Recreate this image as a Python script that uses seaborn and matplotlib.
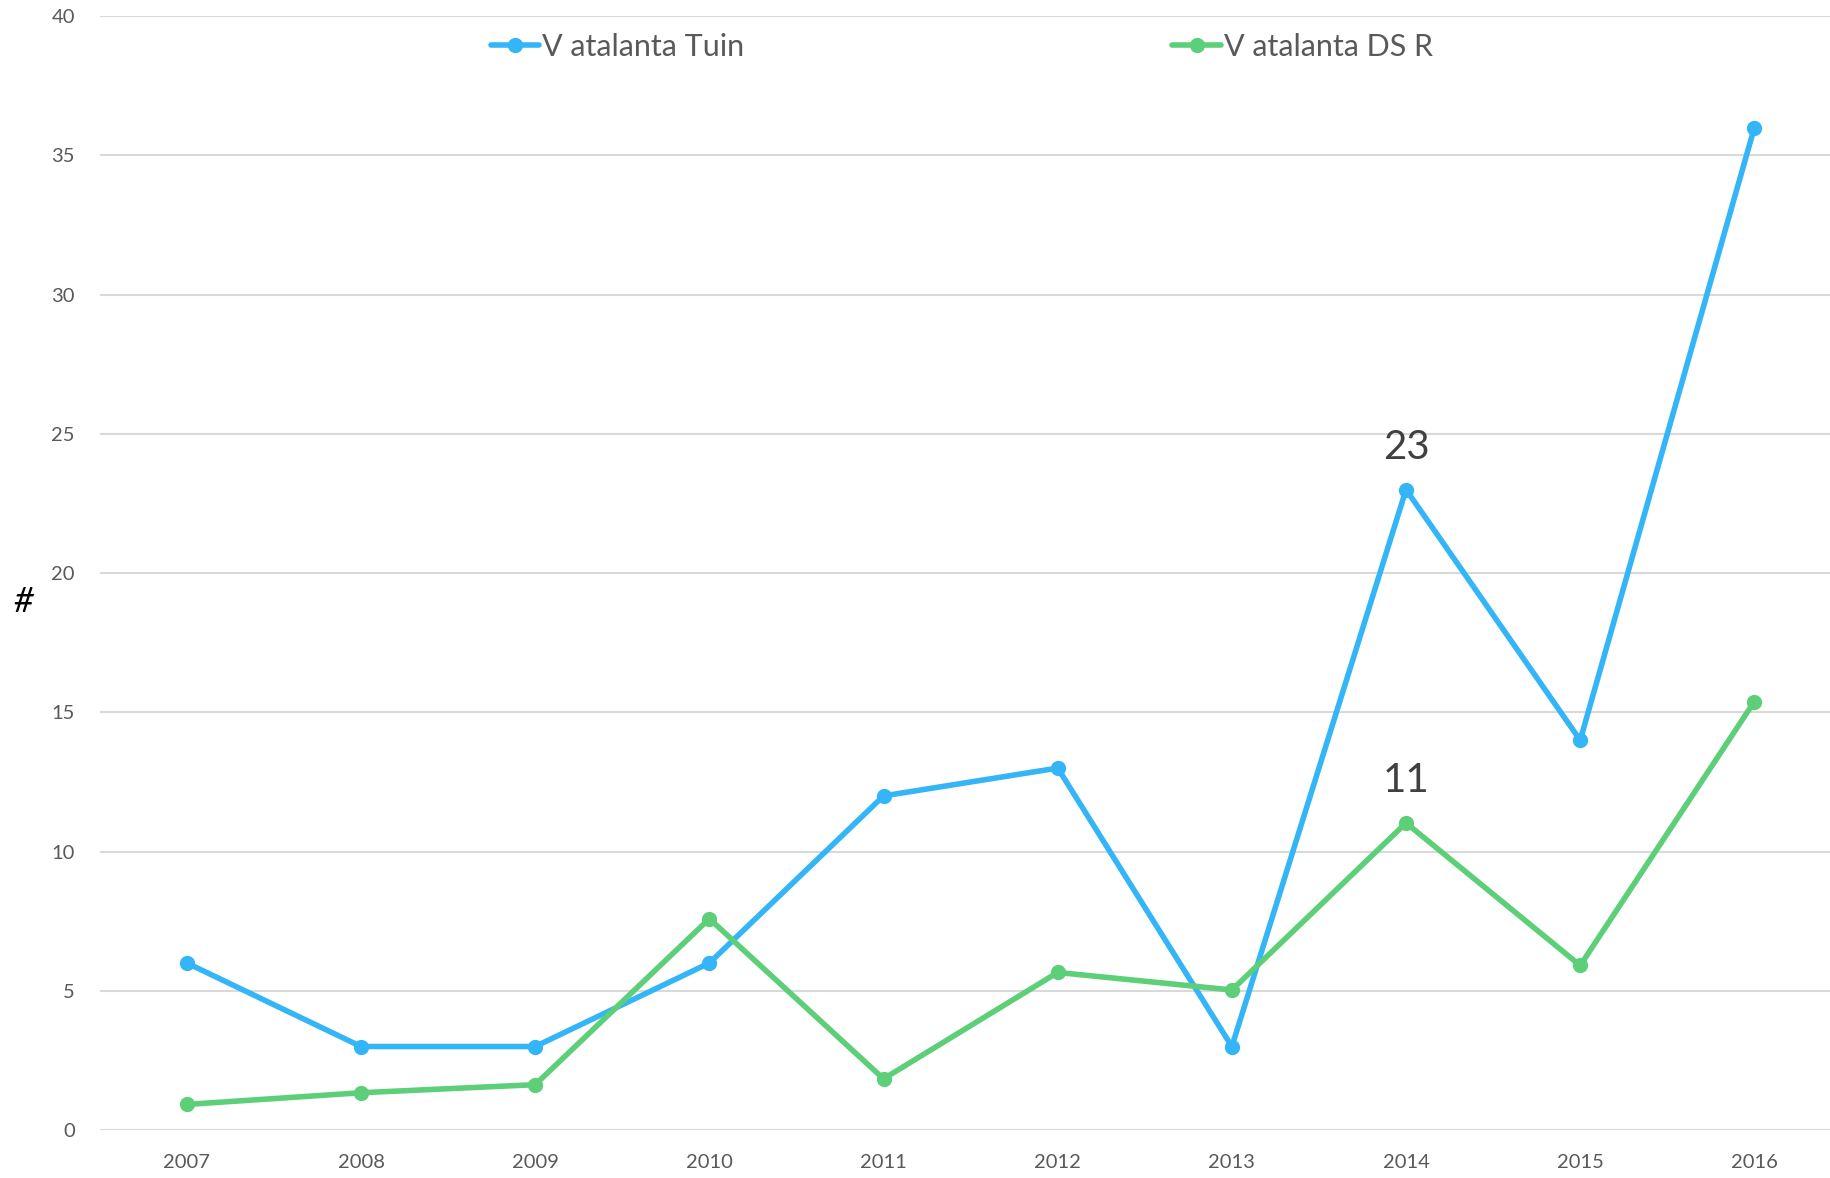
"""
Vanessa atalanta counts per year, Tuin vs DS R
"""

import numpy as np
import pandas as pd
import matplotlib
matplotlib.use("Agg")
import matplotlib.pyplot as plt
import seaborn as sns

years = [2007, 2008, 2009, 2010, 2011, 2012, 2013, 2014, 2015, 2016]
tuin = [6, 3, 3, 6, 12, 13, 3, 23, 14, 36]
ds_r = [0.92, 1.34, 1.63, 7.59, 1.84, 5.66, 5.03, 11.03, 5.91, 15.39]
series_names = ["V atalanta Tuin", "V atalanta DS R"]
y_ticks = [0, 5, 10, 15, 20, 25, 30, 35, 40]

# annotated points (year, series index)
labels = [(2014, 0, "23"), (2014, 1, "11")]

sns.set_theme(style="white")
plt.rcParams["font.family"] = ["Lato", "DejaVu Sans"]

df = pd.DataFrame({
    "year": years * 2,
    "value": tuin + ds_r,
    "series": [series_names[0]] * len(years) + [series_names[1]] * len(years),
})

palette = {series_names[0]: "#33b5f7", series_names[1]: "#5ccf78"}

fig = plt.figure(figsize=(18.31, 11.78), dpi=100)
ax = fig.add_axes([0.0545, 0.0407, 0.9455, 0.9455])

sns.lineplot(data=df, x="year", y="value", hue="series", palette=palette,
             marker="o", markersize=11, markeredgewidth=0, linewidth=4,
             ax=ax, legend=True)

ax.set_xlim(2006.5, 2016.44)
ax.set_ylim(0, 40)
ax.set_yticks(y_ticks)
ax.set_xticks(years)
ax.set_xticklabels([str(y) for y in years])
ax.yaxis.grid(True, color="#d9d9d9", linewidth=1.5)
ax.set_axisbelow(True)
for s in ax.spines.values():
    s.set_visible(False)
ax.tick_params(axis="both", length=0, labelsize=14.5, colors="#595959")
ax.tick_params(axis="x", pad=17)
ax.tick_params(axis="y", pad=18)
ax.set_xlabel("")
ax.set_ylabel("")

fig.text(0.013, 0.489, "#", fontsize=25, color="black", ha="center", va="center",
         style="italic")

vals = [tuin, ds_r]
for yr, si, txt in labels:
    v = vals[si][years.index(yr)]
    ax.annotate(txt, (yr, v), xytext=(0, 17), textcoords="offset points",
                ha="center", va="bottom", fontsize=29, color="#404040")

ax.legend(loc="upper center", bbox_to_anchor=(0.498, 1.01), ncol=2,
          frameon=False, fontsize=22, handlelength=1.6, handletextpad=0.1,
          columnspacing=14, labelcolor="#595959")

fig.savefig("out.png", dpi=100)
